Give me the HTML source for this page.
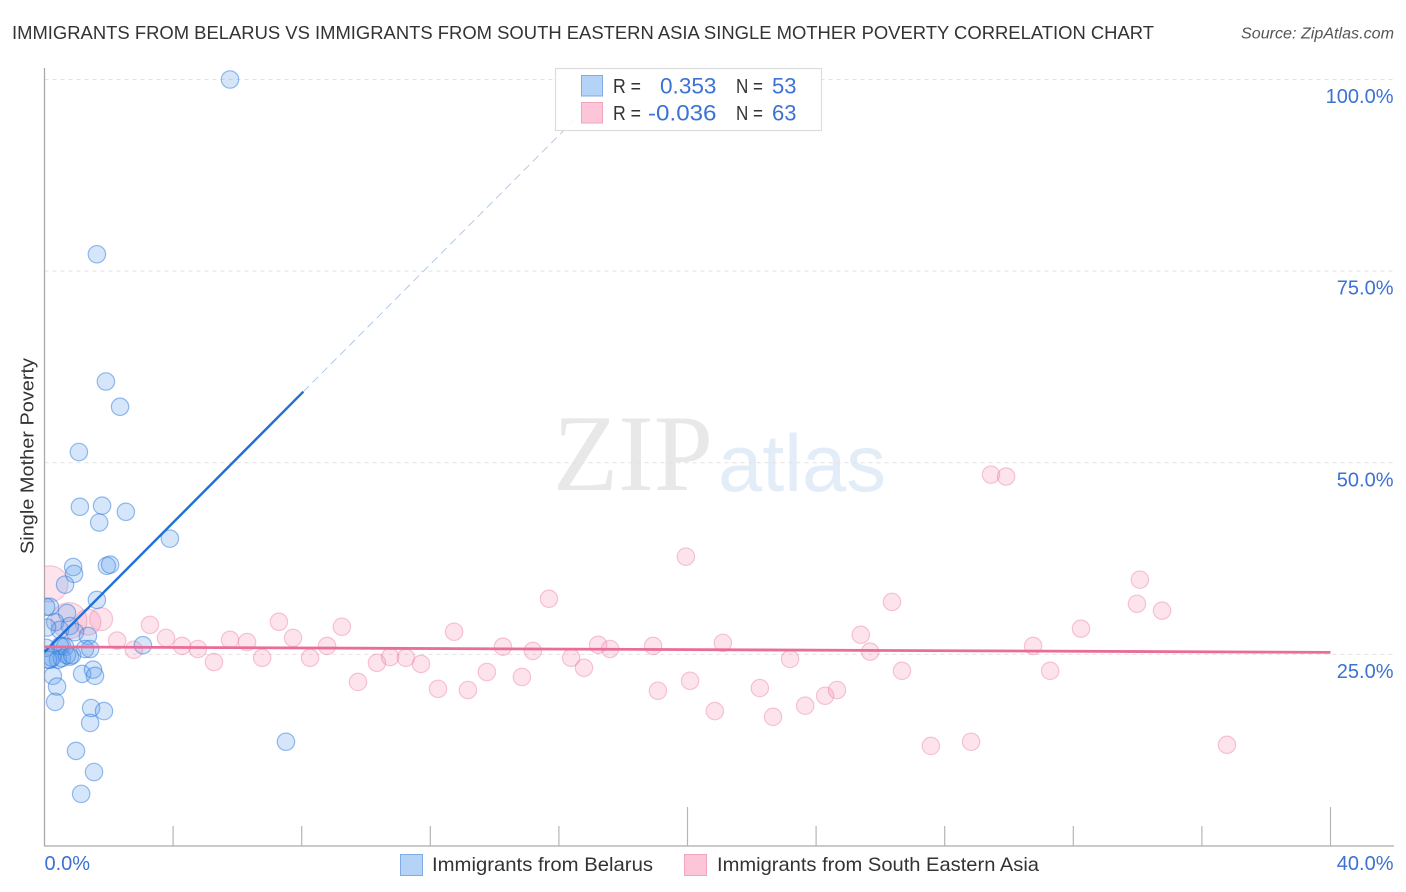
<!DOCTYPE html>
<html lang="en">
<head>
<meta charset="utf-8">
<title>Single Mother Poverty Correlation Chart</title>
<style>
html,body{margin:0;padding:0;background:#fff;}
body{width:1406px;height:892px;overflow:hidden;font-family:"Liberation Sans",sans-serif;}
svg{display:block;}
text{font-family:"Liberation Sans",sans-serif;}
</style>
</head>
<body>
<svg id="chart" width="1406" height="892" viewBox="0 0 1406 892" xmlns="http://www.w3.org/2000/svg">
  <defs>
    <clipPath id="plot-clip"><rect x="44.5" y="60" width="1350" height="786"></rect></clipPath>
  </defs>
  <text x="12" y="39" font-size="18.5" fill="#333" textLength="1142" lengthAdjust="spacingAndGlyphs">IMMIGRANTS FROM BELARUS VS IMMIGRANTS FROM SOUTH EASTERN ASIA SINGLE MOTHER POVERTY CORRELATION CHART</text>
  <text x="1241" y="38.5" font-size="15.5" font-style="italic" fill="#555" textLength="153" lengthAdjust="spacingAndGlyphs">Source: ZipAtlas.com</text>
  <g>
    <text x="553" y="490" font-size="109" fill="#e8e8e8" style="font-family:'Liberation Serif',serif" textLength="160" lengthAdjust="spacingAndGlyphs">ZIP</text>
    <text x="718" y="491" font-size="81" fill="#e3edf8" textLength="168" lengthAdjust="spacingAndGlyphs">atlas</text>
  </g>
  <g id="grid"></g>
  <g id="axes"></g>
  <g id="points" clip-path="url(#plot-clip)"></g>
  <g id="trends"></g>
  <text transform="translate(33.5,456) rotate(-90)" text-anchor="middle" font-size="18" fill="#333" textLength="196" lengthAdjust="spacingAndGlyphs">Single Mother Poverty</text>
  <g id="stats-legend">
    <rect x="555.5" y="68.5" width="266" height="62" fill="#fff" fill-opacity="0.9" stroke="#dcdcdc" stroke-width="1.2"></rect>
    <rect x="581.5" y="75.5" width="21" height="20.5" fill="#b5d2f7" stroke="#7fabe6" stroke-width="1"></rect>
    <rect x="581.5" y="102.5" width="21" height="20.5" fill="#fcc5d8" stroke="#f3a5bf" stroke-width="1"></rect>
    <text x="613" y="93" font-size="20" fill="#333" textLength="28" lengthAdjust="spacingAndGlyphs">R =</text>
    <text x="660" y="93.5" font-size="22" fill="#3b72d4" textLength="56.5" lengthAdjust="spacingAndGlyphs">0.353</text>
    <text x="736" y="93" font-size="20" fill="#333" textLength="27" lengthAdjust="spacingAndGlyphs">N =</text>
    <text x="772" y="93.5" font-size="22" fill="#3b72d4" textLength="24.5" lengthAdjust="spacingAndGlyphs">53</text>
    <text x="613" y="120" font-size="20" fill="#333" textLength="28" lengthAdjust="spacingAndGlyphs">R =</text>
    <text x="648" y="120.5" font-size="22" fill="#3b72d4" textLength="68.5" lengthAdjust="spacingAndGlyphs">-0.036</text>
    <text x="736" y="120" font-size="20" fill="#333" textLength="27" lengthAdjust="spacingAndGlyphs">N =</text>
    <text x="772" y="120.5" font-size="22" fill="#3b72d4" textLength="24.5" lengthAdjust="spacingAndGlyphs">63</text>
  </g>
  <g id="bottom-legend">
    <rect x="400.5" y="854.5" width="22" height="21" fill="#b5d2f7" stroke="#7fabe6" stroke-width="1"></rect>
    <text x="432" y="871" font-size="19.5" fill="#333" textLength="221" lengthAdjust="spacingAndGlyphs">Immigrants from Belarus</text>
    <rect x="684.5" y="854.5" width="22" height="21" fill="#fcc5d8" stroke="#f3a5bf" stroke-width="1"></rect>
    <text x="717" y="871" font-size="19.5" fill="#333" textLength="322" lengthAdjust="spacingAndGlyphs">Immigrants from South Eastern Asia</text>
  </g>
</svg>
<script>
const belarusX = [5.77,1.63,1.91,2.35,1.07,1.10,1.79,1.70,2.53,3.90,0.89,0.92,1.94,2.04,0.64,1.63,0.17,0.05,0.70,0.33,0.79,0.95,0.48,1.35,3.06,1.26,1.42,0.54,0.64,0.48,0.17,0.42,0.54,0.79,0.70,0.26,0.39,1.17,1.51,1.57,0.33,1.45,1.85,1.42,0.98,1.54,1.14,7.51,0.05,0.23,0.08,0.86,0.11];
const belarusY = [100,77.2,60.6,57.3,51.4,44.25,44.4,42.2,43.6,40.1,36.4,35.5,36.55,36.7,34.1,32.1,31.2,31.2,30.4,29.2,28.7,27.9,28.2,27.4,26.2,25.7,25.7,26.1,26.0,26.1,24.3,24.3,24.5,24.7,24.9,22.2,20.8,22.45,23.0,22.2,18.8,18.0,17.6,16.05,12.4,9.65,6.8,13.6,25.85,24.55,28.5,24.9,24.3];
const seaX = [0.17,0.76,1.35,1.76,2.26,2.78,3.28,3.78,4.28,4.77,5.27,5.77,6.30,6.77,7.29,7.73,8.26,8.79,9.25,9.75,10.34,10.75,11.24,11.71,12.24,12.74,13.17,13.76,14.26,14.85,15.19,15.69,16.38,16.78,17.22,17.59,18.93,19.08,19.95,20.08,20.85,21.1,22.25,22.66,23.19,23.66,24.28,24.65,25.39,25.68,26.36,26.67,27.57,28.82,29.44,29.91,30.75,31.28,32.24,33.98,34.07,34.76,36.78];
const seaY = [34.2,29.4,29.2,29.6,26.8,25.6,28.85,27.15,26.1,25.7,24.0,26.9,26.6,24.55,29.25,27.15,24.55,26.1,28.6,21.4,23.9,24.65,24.55,23.75,20.5,27.95,20.35,22.7,26.0,22.05,25.45,32.25,24.55,23.25,26.25,25.7,26.1,20.25,37.75,21.55,17.6,26.5,20.6,16.85,24.4,18.3,19.6,20.35,27.55,25.35,31.85,22.85,13.05,13.6,48.45,48.2,26.1,22.85,28.35,31.6,34.75,30.7,13.2];
const seaWeight = [4.3,4.3,2.2,1.75,1,1,1,1,1,1,1,1,1,1,1,1,1,1,1,1,1,1,1,1,1,1,1,1,1,1,1,1,1,1,1,1,1,1,1,1,1,1,1,1,1,1,1,1,1,1,1,1,1,1,1,1,1,1,1,1,1,1,1];
const yTicks = [100,75,50,25];
const yTickLabels = ["100.0%","75.0%","50.0%","25.0%"];
const xTicks = [0,4,8,12,16,20,24,28,32,36,40];
const xEndLabels = ["0.0%","40.0%"];
const belarusTrendX = [0,8.05];
const belarusTrendY = [25.33,59.27];
const belarusProjectionX = [8.05,17.73];
const belarusProjectionY = [59.27,100];
const seaTrendX = [0,40];
const seaTrendY = [25.98,25.26];

const NS = "http://www.w3.org/2000/svg";
function xScale(v){ return 44.5 + v * (1330.5 - 44.5) / 40; }
function yScale(v){ return 846 - v * (846 - 79.5) / 100; }
function rScale(w){ return 8.7 * Math.sqrt(w); }
function make(tag, attrs, parent){
  const el = document.createElementNS(NS, tag);
  for (const k in attrs) el.setAttribute(k, attrs[k]);
  parent.appendChild(el);
  return el;
}
const grid = document.getElementById("grid");
const axes = document.getElementById("axes");
const points = document.getElementById("points");
const trends = document.getElementById("trends");

yTicks.forEach(function(v, i){
  const g = make("line", {x1:44.5, x2:1394, y1:yScale(v), y2:yScale(v), stroke:"#e2e2e2", "stroke-width":1, "stroke-dasharray":"4 4"}, grid);
  
  
  const t = make("text", {x:1393.5, y:yScale(v)+23.5, "text-anchor":"end", "font-size":20, fill:"#3b72d4"}, axes);
  t.textContent = yTickLabels[i];
  
  
});

const yAxis = make("line", {x1:44.5, x2:44.5, y1:68, y2:846, stroke:"#aaa", "stroke-width":1.3}, axes);


const xAxis = make("line", {x1:44, x2:1394, y1:846, y2:846, stroke:"#aaa", "stroke-width":1.3}, axes);



xTicks.forEach(function(v){
  if (v === 0) return;
  const long = (v === 20 || v === 40);
  const tk = make("line", {x1:xScale(v), x2:xScale(v), y1:long ? 807 : 826, y2:846, stroke:"#b5b5b5", "stroke-width":1.2}, axes);
  
  
});

const xl0 = make("text", {x:xScale(0), y:870, "font-size":20, fill:"#3b72d4"}, axes);
xl0.textContent = xEndLabels[0];


const xl1 = make("text", {x:1393.5, y:870, "text-anchor":"end", "font-size":20, fill:"#3b72d4"}, axes);
xl1.textContent = xEndLabels[1];



seaX.forEach(function(v, i){
  const c = make("circle", {cx:xScale(v), cy:yScale(seaY[i]), r:rScale(seaWeight[i]), fill:"#f58fb2", "fill-opacity":0.25, stroke:"#ec7fa2", "stroke-opacity":0.42, "stroke-width":1.2}, points);
  
  
});
belarusX.forEach(function(v, i){
  const c = make("circle", {cx:xScale(v), cy:yScale(belarusY[i]), r:rScale(1), fill:"#5a9bec", "fill-opacity":0.25, stroke:"#2f7bdc", "stroke-opacity":0.5, "stroke-width":1.2}, points);
  
  
});

const proj = make("line", {x1:xScale(belarusProjectionX[0]), y1:yScale(belarusProjectionY[0]), x2:xScale(belarusProjectionX[1]), y2:yScale(belarusProjectionY[1]), stroke:"#a9c4ea", "stroke-width":0.9, "stroke-dasharray":"8 5"}, trends);


const tb = make("line", {x1:xScale(belarusTrendX[0]), y1:yScale(belarusTrendY[0]), x2:xScale(belarusTrendX[1]), y2:yScale(belarusTrendY[1]), stroke:"#1f6fd6", "stroke-width":2.4}, trends);


const ts = make("line", {x1:xScale(seaTrendX[0]), y1:yScale(seaTrendY[0]), x2:xScale(seaTrendX[1]), y2:yScale(seaTrendY[1]), stroke:"#e96d9a", "stroke-width":2.8}, trends);


</script>
</body>
</html>
